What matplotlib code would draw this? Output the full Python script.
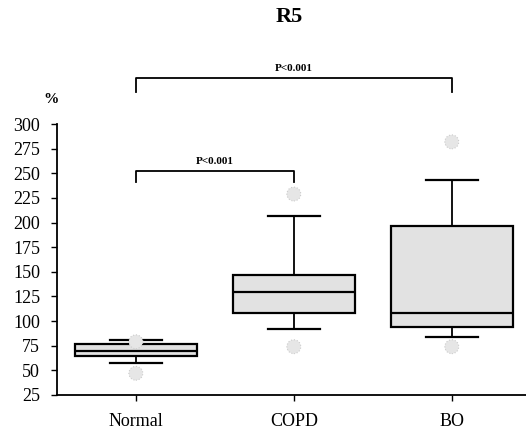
import matplotlib
matplotlib.use("Agg")
import matplotlib.pyplot as plt

categories = ["Normal", "COPD", "BO"]
q1 = [65, 108, 94]
median = [70, 130, 108]
q3 = [77, 147, 197]
whisker_low = [57, 92, 84]
whisker_high = [81, 207, 243]
outliers = [[79, 47], [229, 74], [282, 74]]
yticks = [25, 50, 75, 100, 125, 150, 175, 200, 225, 250, 275, 300]
brackets = [(1, 2, 252, 241, "P<0.001"), (1, 3, 347, 333, "P<0.001")]

plt.rcParams['font.family'] = ['Liberation Serif', 'DejaVu Serif']

fig = plt.figure(figsize=(5.26, 4.34), dpi=100)
ax = fig.add_axes([0.108, 0.09, 0.892, 0.624])

stats = []
for i, c in enumerate(categories):
    stats.append(dict(label=c, q1=q1[i], med=median[i], q3=q3[i],
                      whislo=whisker_low[i], whishi=whisker_high[i],
                      fliers=[]))
pos = [1, 2, 3]
ax.bxp(stats, positions=pos, widths=0.77, patch_artist=True, showfliers=False,
       boxprops=dict(facecolor='#e2e2e2', edgecolor='black', linewidth=1.6),
       medianprops=dict(color='black', linewidth=1.6),
       whiskerprops=dict(color='black', linewidth=1.3),
       capprops=dict(color='black', linewidth=1.6),
       capwidths=0.33)
for p, fl in zip(pos, outliers):
    ax.scatter([p] * len(fl), fl, s=100, facecolor='#e6e6e6', edgecolor='#cccccc',
               linewidth=0.8, linestyle=':', zorder=3, clip_on=False)

for x0, x1, y, ydrop, txt in brackets:
    ax.plot([x0, x0, x1, x1], [ydrop, y, y, ydrop], color='black', lw=1.3,
            clip_on=False)
    ax.text((x0 + x1) / 2, y + 5, txt, ha='center', va='bottom',
            fontsize=8, fontweight='bold')

ax.set_xlim(0.5, 3.47)
ax.set_ylim(25, 300)
ax.set_yticks(yticks)
ax.set_xticks(pos)
ax.set_xticklabels(categories)
ax.tick_params(axis='both', labelsize=13, length=4, width=1, direction='out')
ax.tick_params(axis='x', pad=9)
ax.tick_params(axis='y', pad=8)
for s in ['top', 'right']:
    ax.spines[s].set_visible(False)
for s in ['left', 'bottom']:
    ax.spines[s].set_linewidth(1.3)

fig.text(0.097, 0.77, "%", fontsize=11, fontweight='bold', ha='center', va='center')
fig.text(0.55, 0.96, "R5", fontsize=16, fontweight='bold', ha='center', va='center')

fig.savefig("out.png", dpi=100)
